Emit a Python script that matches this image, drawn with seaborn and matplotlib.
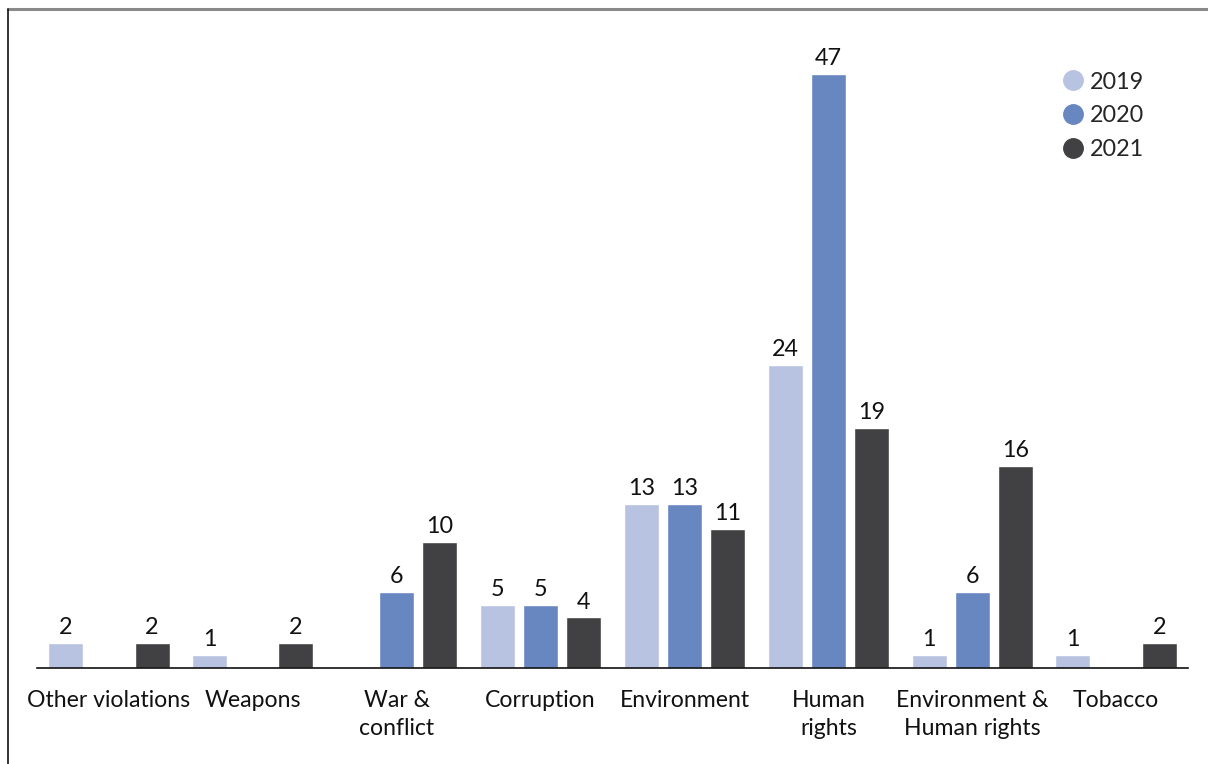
import matplotlib
matplotlib.use("Agg")
import matplotlib.pyplot as plt
from matplotlib.lines import Line2D
import seaborn as sns
import pandas as pd

categories = ["Other violations", "Weapons", "War &\nconflict", "Corruption",
              "Environment", "Human\nrights", "Environment &\nHuman rights", "Tobacco"]
years = ["2019", "2020", "2021"]
values_2019 = [2, 1, 0, 5, 13, 24, 1, 1]
values_2020 = [0, 0, 6, 5, 13, 47, 6, 0]
values_2021 = [2, 2, 10, 4, 11, 19, 16, 2]
colors = ["#B7C3E1", "#6887C1", "#414143"]

rows = []
for year, vals in zip(years, [values_2019, values_2020, values_2021]):
    for cat, v in zip(categories, vals):
        rows.append({"category": cat, "year": year, "value": v})
df = pd.DataFrame(rows)

sns.set_style("white")
plt.rcParams["font.family"] = ["Lato", "DejaVu Sans"]

fig = plt.figure(figsize=(12.08, 7.64), dpi=100)
ax = fig.add_axes([37 / 1208, 96 / 764, (1188 - 37) / 1208, (668 - 36) / 764])

sns.barplot(data=df, x="category", y="value", hue="year", order=categories,
            hue_order=years, palette=colors, width=0.9, gap=0.19,
            saturation=1, ax=ax, legend=False, errorbar=None)

ax.set_xlim(-0.5, 7.5)
ax.set_ylim(0, 50)

# value labels (skip empty bars)
for container in ax.containers:
    labels = [f"{int(b.get_height())}" if b.get_height() > 0 else "" for b in container]
    ax.bar_label(container, labels=labels, padding=3.5, fontsize=16.8, color="#111111")

for s in ["top", "right", "left"]:
    ax.spines[s].set_visible(False)
ax.spines["bottom"].set_color("#111111")
ax.spines["bottom"].set_linewidth(1.2)
ax.set_yticks([])
ax.set_xlabel("")
ax.set_ylabel("")
ax.tick_params(axis="x", length=0, pad=15.5, labelsize=16.6, labelcolor="#111111")
for lab in ax.get_xticklabels():
    lab.set_linespacing(1.42)
    lab.set_verticalalignment("top")

# legend
handles = [Line2D([0], [0], marker="o", linestyle="", markersize=14,
                  markerfacecolor=c, markeredgecolor=c) for c in colors]
fig.legend(handles, years, loc="upper left", bbox_to_anchor=(1050 / 1208, 1 - 60 / 764),
           frameon=False, fontsize=16.8, handletextpad=0.2, labelspacing=0.55,
           handlelength=1.0, borderpad=0)

# frame lines
fig.add_artist(Line2D([8 / 1208, 1], [1 - 9 / 764, 1 - 9 / 764], color="#8a8a8a", lw=2.2))
fig.add_artist(Line2D([8 / 1208, 8 / 1208], [0, 1 - 9 / 764], color="#111111", lw=1.2))

fig.savefig("out.png", dpi=100, facecolor="white")
